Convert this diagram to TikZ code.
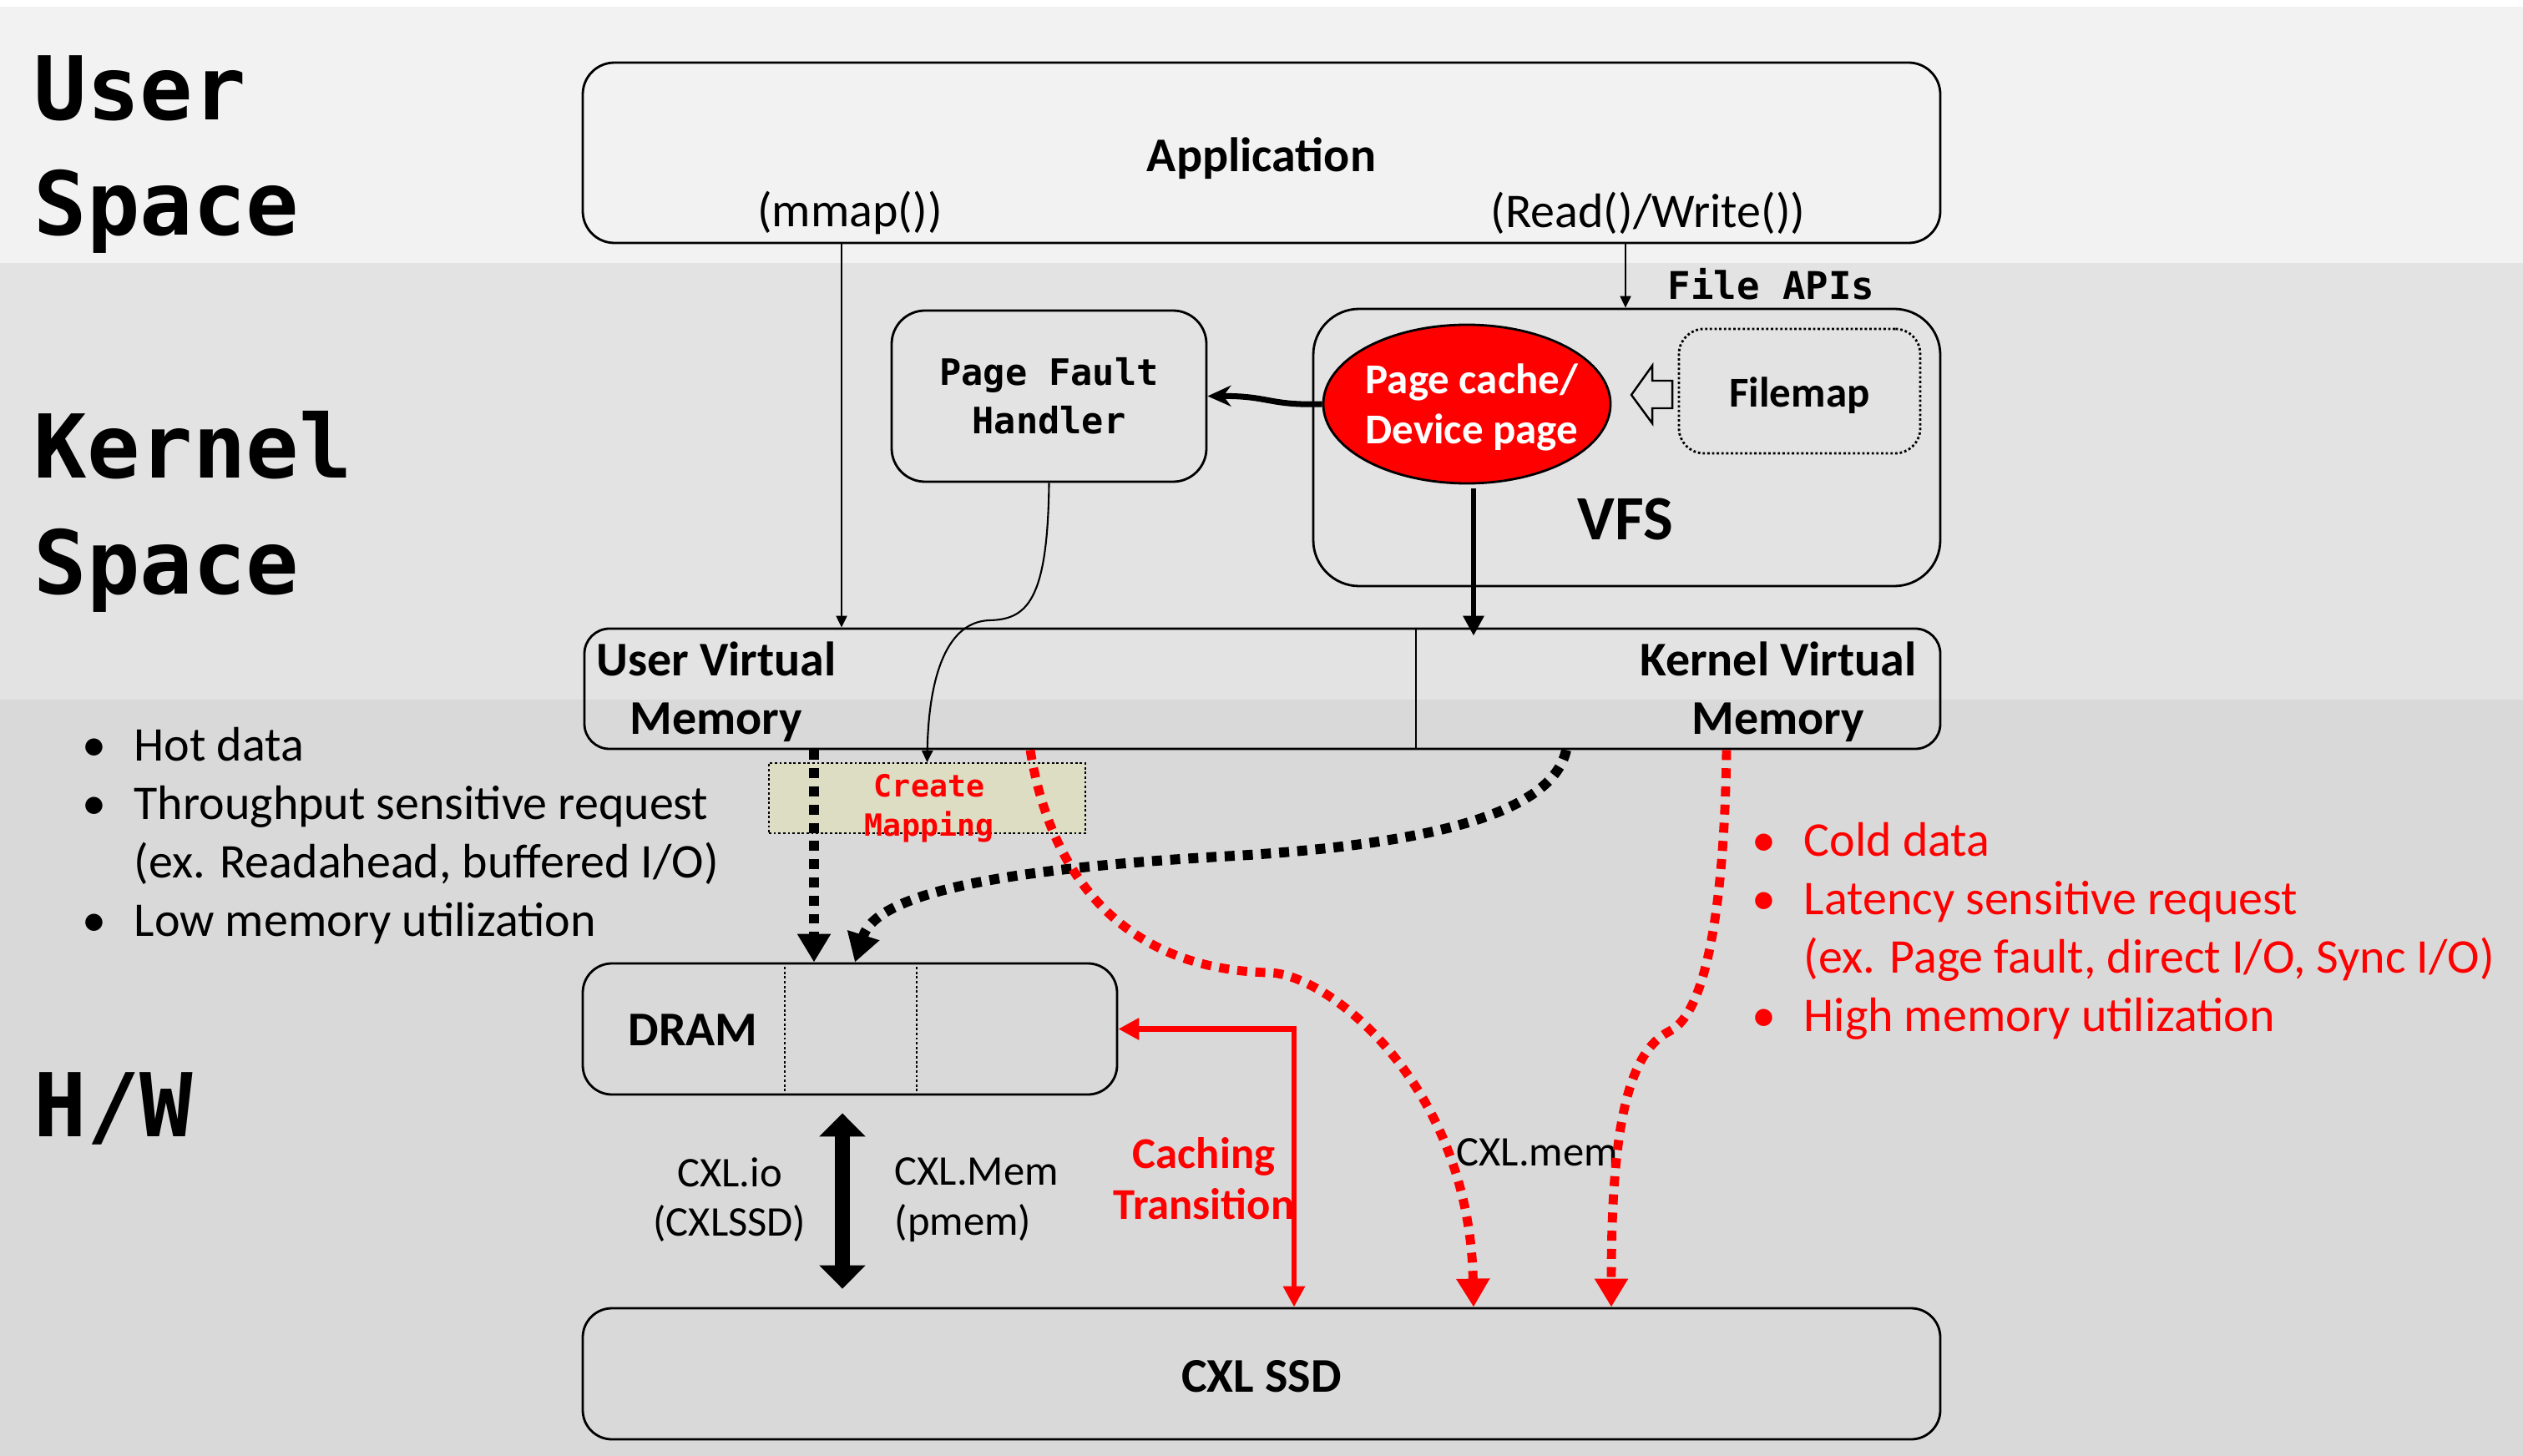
\documentclass[tikz,border=0pt]{standalone}
\usepackage{fontspec}
\setmainfont{Carlito}
\setmonofont{DejaVu Sans Mono}
\usepackage{tikz}
\usetikzlibrary{arrows.meta,positioning,shapes.geometric}

\definecolor{userbg}{RGB}{242,242,242}
\definecolor{kernbg}{RGB}{227,227,227}
\definecolor{hwbg}{RGB}{217,217,217}
\definecolor{mapbg}{RGB}{221,221,196}

\newcommand{\bul}{\makebox[6.2mm][l]{\textbullet}}

\begin{document}
\begin{tikzpicture}[x=1cm,y=-1cm,
  box/.style={draw,line width=0.8pt,inner sep=0pt},
  txt/.style={inner sep=0pt,font=\fontsize{16.5}{19.9}\selectfont},
  btxt/.style={inner sep=0pt,font=\fontsize{16.5}{19.9}\selectfont\bfseries},
  small/.style={inner sep=0pt,font=\fontsize{14.4}{17}\selectfont},
  space/.style={inner sep=0pt,anchor=west,align=left,font=\fontsize{30}{39.5}\selectfont\ttfamily\bfseries},
  dots/.style={dash pattern=on 0.8pt off 0.8pt},
  thinarrow/.style={line width=0.6pt,-{Triangle[length=0.14cm,width=0.13cm]}},
  hotarrow/.style={line width=3.4pt,dash pattern=on 3.4pt off 2.8pt,-{Triangle[length=0.34cm,width=0.38cm]}},
  coldarrow/.style={hotarrow,red,line width=3.1pt}]

% bandes
\fill[white] (0,0) rectangle (30.22,17.44);
\fill[userbg] (0,0.08) rectangle (30.22,3.15);
\fill[kernbg] (0,3.15) rectangle (30.22,8.38);
\fill[hwbg] (0,8.38) rectangle (30.22,17.44);
\useasboundingbox (0,0) rectangle (30.22,17.44);

\node[space] (us) at (0.40,1.85) {User\\Space};
\node[space] (ks) at (0.40,6.13) {Kernel\\Space};
\node[space] (hw) at (0.40,13.28) {H/W};

% user
\node[box,rounded corners=0.38cm,minimum width=16.26cm,minimum height=2.16cm] (app) at (15.11,1.83) {};
\node[btxt] (apptxt) at (15.11,1.90) {Application};
\node[txt] (mmap) at (10.18,2.55) {(mmap())};
\node[txt] (rw) at (19.74,2.55) {(Read()/Write())};

% kernel
\node[box,rounded corners=0.55cm,minimum width=7.51cm,minimum height=3.32cm] (vfs) at (19.485,5.36) {};
\node[inner sep=0pt,font=\fontsize{21.5}{24}\selectfont\bfseries] (vfstxt) at (19.47,6.22) {VFS};
\node[inner sep=0pt,anchor=west,font=\fontsize{13}{15}\selectfont\ttfamily\bfseries] (api) at (19.97,3.40) {File APIs};
\node[ellipse,draw,line width=0.8pt,fill=red,minimum width=3.44cm,minimum height=1.9cm,inner sep=0pt] (pcache) at (17.57,4.84) {};
\node[inner sep=0pt,align=center,text=white,font=\fontsize{14.5}{17}\selectfont\bfseries] (pctxt) at (17.63,4.88) {Page cache/\\Device page};
\node[box,dots,rounded corners=0.3cm,minimum width=2.89cm,minimum height=1.49cm] (filemap) at (21.555,4.685) {};
\node[inner sep=0pt,font=\fontsize{14.5}{17}\selectfont\bfseries] (fmtxt) at (21.555,4.74) {Filemap};
\draw[line width=0.7pt] (19.54,4.73) -- (19.79,4.38) -- (19.79,4.56) -- (20.03,4.56) -- (20.03,4.89) -- (19.79,4.89) -- (19.79,5.07) -- cycle;
\node[box,rounded corners=0.4cm,minimum width=3.77cm,minimum height=2.05cm,align=center,font=\fontsize{12.4}{16.5}\selectfont\ttfamily\bfseries] (pfh) at (12.565,4.745) {Page Fault\\Handler};

% memoire virtuelle
\node[box,rounded corners=0.3cm,minimum width=16.24cm,minimum height=1.44cm] (vm) at (15.12,8.25) {};
\coordinate (mid) at (16.96,0);
\draw[line width=0.6pt] (vm.north -| mid) -- (vm.south -| mid);
\node[btxt,align=center] (uvm) at (8.58,8.29) {User Virtual\\Memory};
\node[btxt,align=center] (kvm) at (21.30,8.29) {Kernel Virtual\\Memory};

\node[draw,line width=0.5pt,dots,fill=mapbg,minimum width=3.79cm,minimum height=0.84cm,inner sep=0pt] (cm) at (11.105,9.56) {};
\node[inner sep=0pt,align=center,text=red,font=\fontsize{10.4}{13.4}\selectfont\ttfamily\bfseries] (cmtxt) at (11.13,9.68) {Create\\Mapping};

% H/W
\node[box,rounded corners=0.35cm,minimum width=6.40cm,minimum height=1.57cm] (dram) at (10.18,12.325) {};
\coordinate (d1) at (9.40,0);
\coordinate (d2) at (10.98,0);
\draw[line width=0.5pt,dots] (dram.north -| d1) -- (dram.south -| d1);
\draw[line width=0.5pt,dots] (dram.north -| d2) -- (dram.south -| d2);
\node[btxt] (dramtxt) at (8.30,12.34) {DRAM};
\node[box,rounded corners=0.35cm,minimum width=16.26cm,minimum height=1.57cm] (ssd) at (15.11,16.455) {};
\node[btxt] (ssdtxt) at (15.11,16.49) {CXL SSD};

\node[small,align=center] (cxlio) at (8.74,14.37) {CXL.io\\(CXLSSD)};
\node[small,align=left,anchor=west] (cxlMem) at (10.71,14.37) {CXL.Mem\\(pmem)};
\node[inner sep=0pt,align=center,text=red,font=\fontsize{15}{17.4}\selectfont\bfseries] (caching) at (14.42,14.12) {Caching\\Transition};
\node[small,anchor=west] (cxlmem) at (17.44,13.80) {CXL.mem};

% listes
\node[txt,anchor=west,align=left] (hot) at (0.98,10.01) {\bul Hot data\\ \bul Throughput sensitive request\\ \hspace*{6.2mm}(ex. Readahead, buffered I/O)\\ \bul Low memory utilization};
\node[txt,anchor=west,align=left,text=red] (cold) at (20.98,11.15) {\bul Cold data\\ \bul Latency sensitive request\\ \hspace*{6.2mm}(ex. Page fault, direct I/O, Sync I/O)\\ \bul High memory utilization};

% fleches
\coordinate (mm) at (10.08,0);
\coordinate (fa) at (19.47,0);
\coordinate (pc) at (17.65,0);
\draw[thinarrow] (app.south -| mm) -- (vm.north -| mm);
\draw[thinarrow] (app.south -| fa) -- (vfs.north -| fa);
\draw[thinarrow] (pfh.south) .. controls (12.55,7.2) and (12.3,7.42) .. (11.85,7.43) .. controls (11.3,7.45) and (11.12,8.2) .. (cm.north);
\draw[line width=2pt,-{Stealth[length=0.28cm,width=0.25cm]}] (pcache.west) .. controls (15.2,4.86) and (15.2,4.74) .. (pfh.east);
\draw[line width=1.7pt,-{Triangle[length=0.24cm,width=0.24cm]},shorten >=-0.1cm] ([yshift=-0.05cm]pcache.south -| pc) -- (vm.north -| pc);

% hot / cold
\coordinate (h1) at (9.75,0);
\coordinate (h2) at (18.76,0);
\coordinate (h3) at (10.24,0);
\draw[hotarrow] (vm.south -| h1) -- (dram.north -| h1);
\draw[hotarrow] (vm.south -| h2) .. controls (18.6,9.7) and (17.3,10.1) .. (14.8,10.25) .. controls (12.0,10.4) and (10.5,10.7) .. (dram.north -| h3);
\coordinate (c1) at (12.34,0);
\coordinate (c2) at (17.65,0);
\coordinate (c3) at (20.68,0);
\coordinate (c4) at (19.30,0);
\draw[coldarrow] (vm.south -| c1) .. controls (12.55,10.3) and (13.3,11.6) .. (15.19,11.65) .. controls (15.9,11.65) and (17.6,13.0) .. (ssd.north -| c2);
\draw[coldarrow] (vm.south -| c3) .. controls (20.66,10.5) and (20.5,12.1) .. (20.0,12.35) .. controls (19.5,12.6) and (19.3,13.5) .. (ssd.north -| c4);

% caching + CXL
\coordinate (ct) at (15.50,0);
\draw[red,line width=1.8pt,{Triangle[length=0.25cm,width=0.25cm]}-{Triangle[length=0.25cm,width=0.25cm]}] (dram.east) -| (ssd.north -| ct);
\coordinate (io) at (10.09,0);
\draw[line width=5pt,{Triangle[length=0.28cm,width=0.54cm]}-{Triangle[length=0.28cm,width=0.54cm]}] ([yshift=-0.21cm]dram.south -| io) -- ([yshift=0.22cm]ssd.north -| io);

\end{tikzpicture}
\end{document}
